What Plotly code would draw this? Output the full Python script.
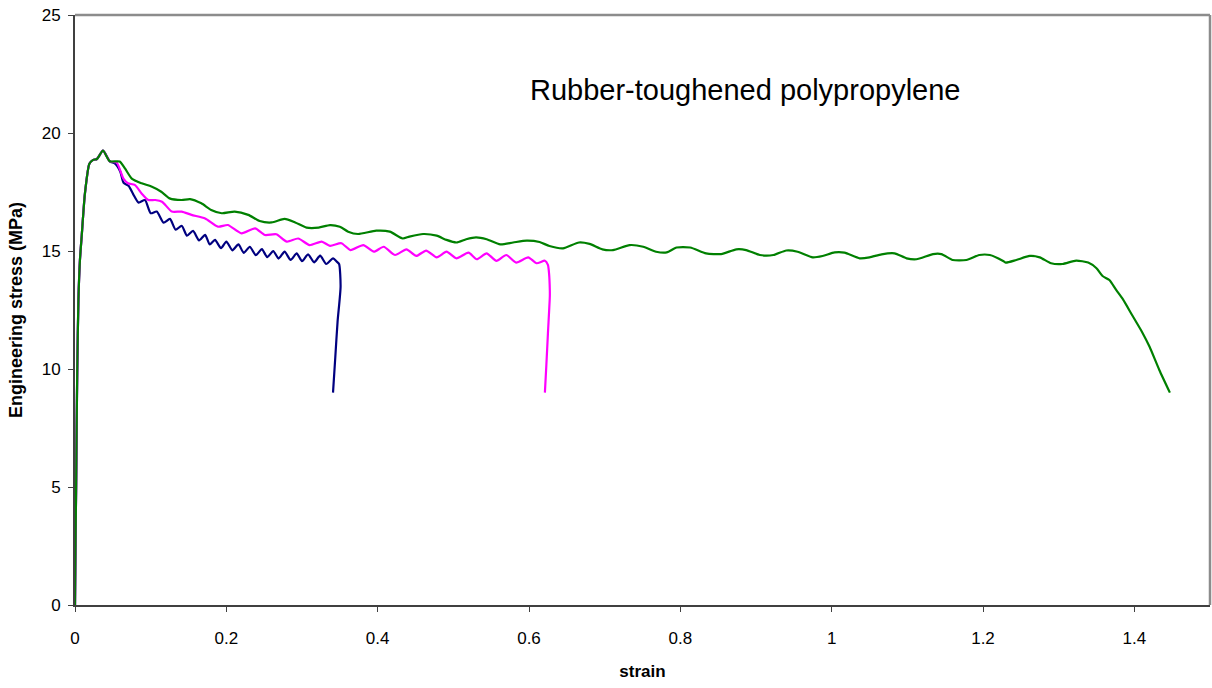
import plotly.graph_objects as go

# ---- data ----
rise_x = [0.0, 0.0008, 0.0015, 0.0022, 0.003, 0.0045, 0.0065, 0.009, 0.013, 0.019, 0.024, 0.029, 0.037, 0.046]
rise_y = [0.0, 3.0, 5.0, 7.5, 10.0, 12.9, 14.6, 15.7, 17.4, 18.7, 18.86, 18.9, 19.25, 18.8]

blue_x = [0.053, 0.060, 0.064, 0.071, 0.077, 0.084, 0.0925, 0.100, 0.108, 0.117, 0.1255, 0.133,
          0.141, 0.148, 0.156, 0.164, 0.172, 0.178, 0.185, 0.193, 0.200, 0.208, 0.216, 0.223,
          0.231, 0.239, 0.247, 0.254, 0.262, 0.269, 0.277, 0.285, 0.293, 0.300, 0.308, 0.316,
          0.324, 0.332, 0.341, 0.346, 0.349, 0.351, 0.347, 0.344, 0.341]
blue_y = [18.70, 18.35, 17.90, 17.75, 17.40, 17.05, 17.16, 16.60, 16.67, 16.20, 16.36, 15.90,
          16.07, 15.65, 15.85, 15.45, 15.68, 15.28, 15.47, 15.12, 15.40, 15.03, 15.28, 14.92,
          15.18, 14.82, 15.08, 14.74, 15.00, 14.68, 14.97, 14.62, 14.90, 14.57, 14.86, 14.52,
          14.80, 14.45, 14.69, 14.55, 14.45, 13.50, 12.00, 10.50, 9.00]

mag_x = [0.055, 0.064, 0.070, 0.079, 0.088, 0.097, 0.106, 0.115, 0.128, 0.141, 0.154, 0.172,
         0.189, 0.202, 0.220, 0.238, 0.251, 0.266, 0.280, 0.295, 0.310, 0.326, 0.337, 0.352,
         0.364, 0.381, 0.395, 0.408, 0.423, 0.438, 0.451, 0.464, 0.478, 0.491, 0.504, 0.520,
         0.531, 0.544, 0.557, 0.570, 0.583, 0.599, 0.610, 0.621, 0.625, 0.6265, 0.6275, 0.6275,
         0.625, 0.623, 0.621]
mag_y = [18.75, 18.07, 17.87, 17.80, 17.44, 17.16, 17.16, 17.09, 16.67, 16.67, 16.53, 16.38,
         16.03, 16.10, 15.75, 15.96, 15.68, 15.71, 15.40, 15.53, 15.25, 15.40, 15.22, 15.33,
         15.04, 15.25, 14.97, 15.18, 14.83, 15.07, 14.79, 15.02, 14.73, 14.97, 14.69, 14.93,
         14.65, 14.90, 14.58, 14.83, 14.51, 14.73, 14.48, 14.59, 14.41, 14.05, 13.35, 13.06,
         11.50, 10.20, 9.00]

green_x = [0.059, 0.066, 0.075, 0.088, 0.101, 0.114, 0.125, 0.141, 0.152, 0.167, 0.180, 0.194,
           0.211, 0.229, 0.244, 0.260, 0.277, 0.291, 0.306, 0.322, 0.337, 0.350, 0.361, 0.374,
           0.398, 0.416, 0.433, 0.442, 0.460, 0.478, 0.491, 0.504, 0.517, 0.530, 0.544, 0.562,
           0.579, 0.597, 0.614, 0.627, 0.645, 0.666, 0.680, 0.697, 0.711, 0.733, 0.751, 0.768,
           0.782, 0.795, 0.813, 0.834, 0.854, 0.874, 0.887, 0.905, 0.923, 0.940, 0.955, 0.975,
           0.988, 1.004, 1.017, 1.037, 1.050, 1.066, 1.083, 1.099, 1.112, 1.134, 1.145, 1.160,
           1.178, 1.195, 1.209, 1.226, 1.230, 1.244, 1.262, 1.275, 1.290, 1.305, 1.323, 1.339,
           1.350, 1.358, 1.367, 1.376, 1.385, 1.397, 1.410, 1.420, 1.433, 1.447]
green_y = [18.79, 18.50, 18.07, 17.87, 17.73, 17.51, 17.23, 17.16, 17.20, 17.02, 16.74, 16.60,
           16.67, 16.53, 16.27, 16.21, 16.36, 16.21, 15.99, 15.99, 16.10, 16.03, 15.82, 15.72,
           15.86, 15.82, 15.53, 15.61, 15.72, 15.65, 15.47, 15.36, 15.50, 15.58, 15.50, 15.28,
           15.36, 15.44, 15.38, 15.21, 15.11, 15.36, 15.30, 15.07, 15.04, 15.25, 15.18, 14.97,
           14.94, 15.15, 15.15, 14.90, 14.87, 15.07, 15.04, 14.83, 14.83, 15.02, 14.97, 14.73,
           14.79, 14.94, 14.93, 14.69, 14.73, 14.86, 14.90, 14.69, 14.65, 14.87, 14.87, 14.62,
           14.62, 14.83, 14.83, 14.59, 14.51, 14.62, 14.79, 14.73, 14.48, 14.45, 14.59, 14.51,
           14.27, 13.94, 13.77, 13.35, 12.95, 12.29, 11.58, 10.95, 9.96, 9.00]

x_ticks = [0, 0.2, 0.4, 0.6, 0.8, 1.0, 1.2, 1.4]
x_tick_text = ["0", "0.2", "0.4", "0.6", "0.8", "1", "1.2", "1.4"]
y_ticks = [0, 5, 10, 15, 20, 25]

title_text = "Rubber-toughened polypropylene"
x_title = "strain"
y_title = "Engineering stress (MPa)"

series = [
    ("blue", blue_x, blue_y, "#000080"),
    ("magenta", mag_x, mag_y, "#FF00FF"),
    ("green", green_x, green_y, "#008000"),
]

fig = go.Figure()
for name, xs, ys, col in series:
    fig.add_trace(go.Scatter(
        x=rise_x + xs, y=rise_y + ys, mode="lines", name=name,
        line=dict(color=col, width=2.2, shape="spline", smoothing=0.6),
        showlegend=False, hoverinfo="skip"))

font_family = "Liberation Sans, Arial, sans-serif"
fig.update_layout(
    width=1212, height=688,
    margin=dict(l=75, r=2, t=15, b=83),
    paper_bgcolor="white", plot_bgcolor="white",
    font=dict(family=font_family, color="black", size=17),
    xaxis=dict(range=[0, 1.5], tickvals=x_ticks, ticktext=x_tick_text,
               showgrid=False, zeroline=False, showline=True, linecolor="#404040",
               linewidth=2, ticks="outside", ticklen=5, tickcolor="#404040",
               tickfont=dict(size=17), ticklabelstandoff=12,
               title=dict(text="<b>" + x_title + "</b>", font=dict(size=17), standoff=18)),
    yaxis=dict(range=[0, 25], tickvals=y_ticks,
               showgrid=False, zeroline=False, showline=True, linecolor="#404040",
               linewidth=2, ticks="outside", ticklen=5, tickcolor="#404040",
               tickfont=dict(size=17), ticklabelstandoff=4,
               title=dict(text="<b>" + y_title + "</b>", font=dict(size=18), standoff=14)),
    shapes=[
        dict(type="line", xref="paper", yref="paper", x0=0, x1=1, y0=1, y1=1,
             line=dict(color="#8c8c8c", width=2.5)),
        dict(type="line", xref="paper", yref="paper", x0=1, x1=1, y0=0, y1=1,
             line=dict(color="#8c8c8c", width=2.5)),
    ],
    annotations=[dict(text=title_text, xref="paper", yref="paper", x=0.59, y=0.873,
                      xanchor="center", yanchor="middle",
                      showarrow=False, font=dict(size=29, family=font_family))],
)

fig.write_html("out.html")
